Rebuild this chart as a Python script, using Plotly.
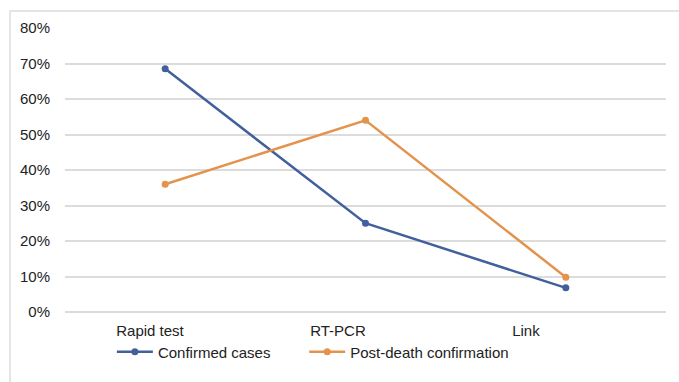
import plotly.graph_objects as go

categories = ["Rapid test", "RT-PCR", "Link"]
confirmed_cases = [68.5, 25.0, 6.8]
post_death = [36.0, 54.0, 9.8]
y_ticks = [0, 10, 20, 30, 40, 50, 60, 70, 80]
y_tick_text = [f"{v}%" for v in y_ticks]

BLUE = "#42609c"
ORANGE = "#e3934c"
GRID = "#dcdcdc"
FONT = "Liberation Sans, Arial, sans-serif"
FS = 15

fig = go.Figure()
fig.add_trace(go.Scatter(
    x=categories, y=confirmed_cases, name="Confirmed cases",
    mode="lines+markers", line=dict(color=BLUE, width=2.5),
    marker=dict(size=7, color=BLUE), legend="legend",
))
fig.add_trace(go.Scatter(
    x=categories, y=post_death, name="Post-death confirmation",
    mode="lines+markers", line=dict(color=ORANGE, width=2.5),
    marker=dict(size=7, color=ORANGE), legend="legend2",
))
# invisible trace carrying the category labels axis
fig.add_trace(go.Scatter(
    x=categories, y=[None] * len(categories), xaxis="x2",
    showlegend=False, hoverinfo="skip", mode="lines",
))

legend_common = dict(orientation="h", xanchor="left", y=-0.141, yanchor="middle",
                     font=dict(size=FS, color="#222222"), itemwidth=36,
                     bgcolor="rgba(0,0,0,0)")

fig.update_layout(
    width=679, height=382,
    margin=dict(l=65, r=13, t=28, b=70),
    paper_bgcolor="white", plot_bgcolor="white",
    font=dict(family=FONT, size=FS, color="#222222"),
    showlegend=True,
    legend=dict(x=0.078, **legend_common),
    legend2=dict(x=0.398, **legend_common),
    xaxis=dict(type="category", categoryarray=categories, range=[-0.5, 2.5],
               showticklabels=False, showgrid=False, zeroline=False,
               showline=False, ticks="", automargin=False),
    xaxis2=dict(type="category", categoryarray=categories, overlaying="x",
                side="bottom", range=[-0.452, 2.745], showgrid=False,
                zeroline=False, showline=False, ticks="", automargin=False,
                ticklabelstandoff=8,
                tickfont=dict(size=FS, color="#222222"), anchor="y"),
    yaxis=dict(range=[0, 80], tickvals=y_ticks, ticktext=y_tick_text,
               showgrid=True, gridcolor=GRID, gridwidth=1.5,
               zeroline=True, zerolinecolor=GRID, zerolinewidth=1.5,
               showline=False, ticks="", automargin=False,
               ticklabelstandoff=14, tickfont=dict(size=FS, color="#222222")),
    shapes=[dict(type="rect", xref="paper", yref="paper",
                 x0=-0.0915, x1=1.1, y0=-0.3, y1=1.06,
                 line=dict(color=GRID, width=1.5), fillcolor="rgba(0,0,0,0)",
                 layer="below")],
)

fig.write_html("out.html")
